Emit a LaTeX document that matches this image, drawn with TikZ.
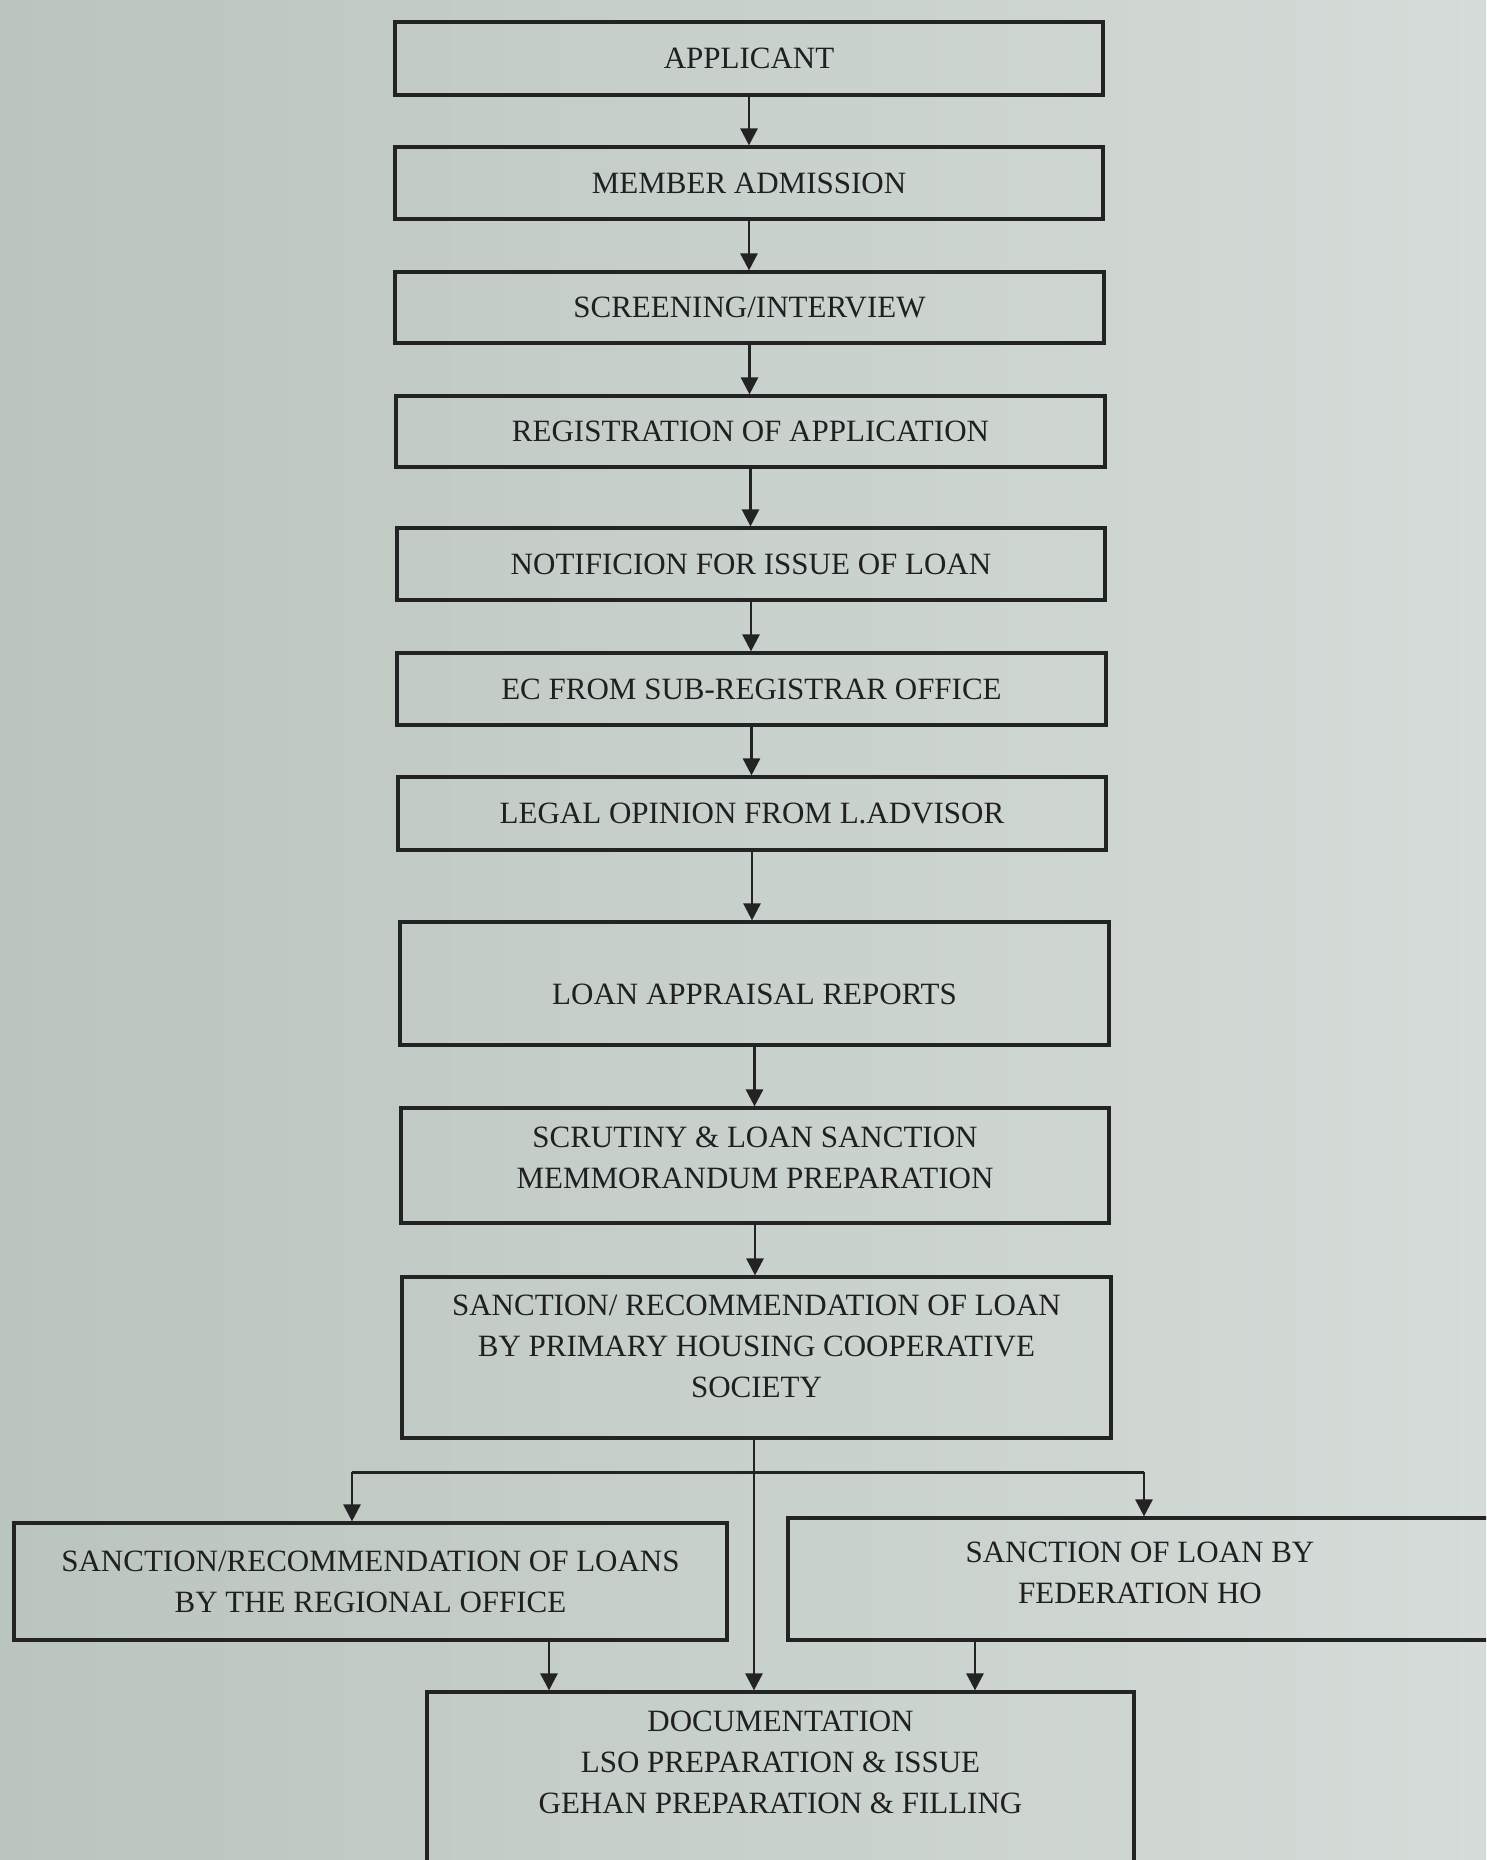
\documentclass[tikz,border=0pt]{standalone}
\usepackage{fontspec}
\setmainfont{Liberation Serif}
\usetikzlibrary{arrows.meta,calc}
\definecolor{bgL}{RGB}{186,197,189}
\definecolor{bgR}{RGB}{214,220,217}
\definecolor{ink}{RGB}{35,35,35}
\definecolor{txt}{RGB}{32,32,32}
\tikzset{
  stepbox/.style={draw=ink, line width=3.2pt, rectangle, inner sep=0pt,
    align=center, text=txt, font=\fontsize{31}{41}\selectfont},
  steptext/.style={align=center, text=txt, inner sep=0pt, font=\fontsize{31}{41}\selectfont},
  arr/.style={draw=ink, line width=2.7pt, -{Triangle[length=17pt,width=17pt]}},
  plainline/.style={draw=ink, line width=3pt}
}
\begin{document}
\begin{tikzpicture}[x=1pt,y=-1pt]
\useasboundingbox (0,0) rectangle (1486,1860);
\clip (0,0) rectangle (1486,1860);
\shade[left color=bgL, right color=bgR] (0,0) rectangle (1486,1860);

\node[stepbox, minimum width=708pt, minimum height=73pt] (b1) at (749,58.5) {APPLICANT};
\node[stepbox, minimum width=708pt, minimum height=72pt] (b2) at (749,183) {MEMBER ADMISSION};
\node[stepbox, minimum width=709pt, minimum height=71pt] (b3) at (749.5,307.5) {SCREENING/INTERVIEW};
\node[stepbox, minimum width=709pt, minimum height=71pt] (b4) at (750.5,431.5) {REGISTRATION OF APPLICATION};
\node[stepbox, minimum width=708pt, minimum height=72pt] (b5) at (751,564) {NOTIFICION FOR ISSUE OF LOAN};
\node[stepbox, minimum width=709pt, minimum height=72pt] (b6) at (751.5,689) {EC FROM SUB-REGISTRAR OFFICE};
\node[stepbox, minimum width=708pt, minimum height=73pt] (b7) at (752,813.5) {LEGAL OPINION FROM L.ADVISOR};
\node[stepbox, minimum width=709pt, minimum height=123pt] (b8) at (754.5,983.5) {};
\node[steptext] (b8t) at (754.5,994) {LOAN APPRAISAL REPORTS};
\node[stepbox, minimum width=708pt, minimum height=115pt] (b9) at (755,1165.5) {};
\node[steptext] (b9t) at (755,1158) {SCRUTINY \& LOAN SANCTION\\MEMMORANDUM PREPARATION};
\node[stepbox, minimum width=709pt, minimum height=161pt] (b10) at (756.5,1357.5) {};
\node[steptext] (b10t) at (756.5,1346) {SANCTION/ RECOMMENDATION OF LOAN\\BY PRIMARY HOUSING COOPERATIVE\\SOCIETY};
\node[stepbox, minimum width=713pt, minimum height=117pt] (b11) at (370.5,1581.5) {SANCTION/RECOMMENDATION OF LOANS\\BY THE REGIONAL OFFICE};
\node[stepbox, minimum width=704pt, minimum height=122pt] (b12) at (1140,1579) {};
\node[steptext] (b12t) at (1140,1573) {SANCTION OF LOAN BY\\FEDERATION HO};
\node[stepbox, minimum width=707pt, minimum height=183pt] (b13) at (780.5,1783.5) {};
\node[steptext, anchor=north] (b13t) at (780.5,1711) {DOCUMENTATION\\LSO PREPARATION \& ISSUE\\GEHAN PREPARATION \& FILLING};

\draw[arr] (b1.south) -- (b1.south |- b2.north);
\draw[arr] (b2.south) -- (b2.south |- b3.north);
\draw[arr] (b3.south) -- (b3.south |- b4.north);
\draw[arr] (b4.south) -- (b4.south |- b5.north);
\draw[arr] (b5.south) -- (b5.south |- b6.north);
\draw[arr] (b6.south) -- (b6.south |- b7.north);
\draw[arr] (b7.south) -- (b7.south |- b8.north);
\draw[arr] (b8.south) -- (b8.south |- b9.north);
\draw[arr] (b9.south) -- (b9.south |- b10.north);

\coordinate (split) at (754,1472);
\coordinate (lb) at (352,1472);
\coordinate (rb) at (1144,1472);
\coordinate (lx) at (549,0);
\coordinate (rx) at (975,0);

\draw[arr] (b10.south -| split) -- (b13.north -| split);
\draw[plainline] (lb) -- (rb);
\draw[arr] (lb) -- (lb |- b11.north);
\draw[arr] (rb) -- (rb |- b12.north);
\draw[arr] (b11.south -| lx) -- (b13.north -| lx);
\draw[arr] (b12.south -| rx) -- (b13.north -| rx);
\end{tikzpicture}
\end{document}
